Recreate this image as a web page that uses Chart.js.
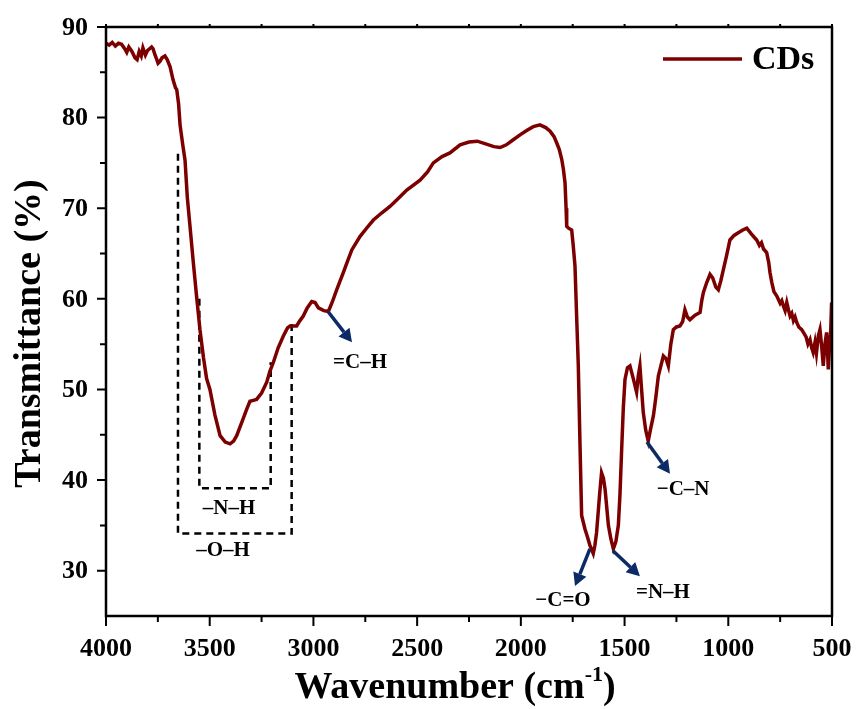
<!DOCTYPE html>
<html>
<head>
<meta charset="utf-8">
<title>FTIR - CDs</title>
<script src="https://cdn.jsdelivr.net/npm/chart.js@4.4.0/dist/chart.umd.min.js"></script>
<style>
    html, body { margin: 0; padding: 0; background: #fff; }
    #wrap { width: 858px; height: 709px; }
</style>
</head>
<body>
<div id="wrap"><canvas id="ftirCanvas"></canvas></div>
<script>
// FTIR 光谱数据 (波数 cm-1 / 透过率 %)
const wavenumber = [
    4000, 3985, 3970, 3955, 3940, 3925, 3910, 3900, 3890, 3875, 3860, 3850, 3840, 3830, 3822, 3810,
    3800, 3790, 3780, 3773, 3765, 3755, 3749, 3740, 3730, 3716, 3705, 3691, 3677, 3665, 3659, 3650,
    3643, 3630, 3619, 3608, 3595, 3579, 3563, 3547, 3530, 3515, 3499, 3475, 3450, 3425, 3402, 3385,
    3370, 3345, 3322, 3306, 3290, 3274, 3250, 3225, 3210, 3193, 3170, 3145, 3125, 3113, 3095, 3081,
    3065, 3049, 3030, 3008, 2992, 2976, 2950, 2928, 2910, 2888, 2856, 2835, 2815, 2775, 2740, 2711,
    2670, 2631, 2590, 2550, 2486, 2450, 2422, 2380, 2342, 2293, 2250, 2210, 2170, 2130, 2100, 2070,
    2040, 2004, 1970, 1940, 1908, 1880, 1859, 1840, 1827, 1815, 1803, 1795, 1787, 1782, 1779, 1770,
    1755, 1748, 1739, 1731, 1723, 1715, 1707, 1691, 1680, 1667, 1651, 1643, 1635, 1620, 1611, 1602,
    1594, 1586, 1578, 1566, 1554, 1542, 1530, 1522, 1514, 1506, 1498, 1486, 1474, 1458, 1442, 1434,
    1426, 1418, 1410, 1398, 1386, 1375, 1361, 1350, 1337, 1325, 1313, 1300, 1289, 1277, 1265, 1250,
    1233, 1220, 1209, 1197, 1185, 1160, 1136, 1128, 1120, 1104, 1088, 1075, 1060, 1048, 1036, 1024,
    1008, 992, 972, 952, 930, 911, 890, 875, 863, 850, 840, 830, 815, 805, 799, 790,
    780, 766, 750, 742, 734, 726, 718, 710, 702, 694, 686, 678, 670, 660, 646, 635,
    625, 616, 606, 598, 591, 582, 575, 566, 558, 550, 542, 534, 526, 522, 518, 512,
    506, 502, 500
];
const transmittance = [
    88.2, 88.0, 88.3, 87.9, 88.2, 88.1, 87.6, 87.2, 87.8, 87.3, 86.6, 86.4, 87.3, 86.8, 87.7, 86.9,
    87.4, 87.6, 87.8, 87.6, 87.0, 86.4, 86.0, 86.2, 86.6, 86.8, 86.4, 85.6, 84.2, 83.3, 83.1, 81.5,
    79.2, 77.0, 75.3, 71.2, 68.0, 64.0, 60.2, 56.6, 53.5, 51.2, 50.0, 47.2, 44.9, 44.2, 44.0, 44.3,
    44.9, 46.4, 47.8, 48.7, 48.8, 48.9, 49.6, 50.8, 52.0, 53.0, 54.6, 55.9, 56.8, 57.0, 57.0, 57.0,
    57.6, 58.1, 59.0, 59.7, 59.6, 59.0, 58.7, 58.6, 59.6, 61.0, 62.9, 64.2, 65.4, 66.9, 67.9, 68.7,
    69.5, 70.2, 71.1, 72.0, 73.1, 74.0, 75.0, 75.7, 76.1, 77.0, 77.3, 77.4, 77.1, 76.8, 76.7, 77.0,
    77.5, 78.1, 78.6, 79.0, 79.2, 78.9, 78.5, 77.9, 77.2, 76.5, 75.4, 74.3, 72.8, 70.0, 68.0, 67.8,
    67.6, 66.0, 63.6, 58.0, 52.6, 44.0, 36.1, 34.6, 33.8, 32.8, 31.9, 32.8, 34.2, 38.5, 40.8, 40.2,
    39.0, 37.0, 35.0, 33.5, 32.4, 33.2, 35.0, 38.5, 43.4, 48.0, 51.1, 52.4, 52.6, 51.2, 49.7, 51.5,
    52.6, 50.0, 47.5, 45.5, 44.3, 45.6, 47.1, 49.0, 51.5, 52.6, 53.7, 53.4, 52.6, 55.0, 56.6, 56.9,
    57.0, 57.5, 58.8, 58.0, 57.7, 58.2, 58.5, 59.8, 60.7, 61.8, 62.7, 62.3, 61.3, 61.0, 62.0, 63.2,
    64.8, 66.5, 67.0, 67.3, 67.6, 67.8, 67.2, 66.8, 66.5, 65.9, 66.2, 65.5, 65.1, 64.0, 62.9, 61.8,
    60.8, 60.3, 59.5, 59.8, 59.2, 58.7, 59.6, 58.8, 58.1, 58.4, 57.6, 58.0, 57.4, 56.9, 56.6, 56.2,
    55.8, 55.0, 55.5, 54.6, 54.1, 55.2, 54.0, 55.9, 56.6, 54.8, 52.6, 55.0, 56.3, 54.5, 52.2, 54.8,
    56.5, 59.6, 57.0
];
const xTicks = [4000, 3500, 3000, 2500, 2000, 1500, 1000, 500];
const yTicks = [30, 40, 50, 60, 70, 80, 90];
const seriesName = 'CDs';

// 标注: 虚线框 / 箭头 / 文字 (数据坐标)
const bandBoxes = [
    [[3653, 76.0], [3653, 34.1], [3105, 34.1], [3105, 57.4]],
    [[3550, 60.0], [3550, 39.1], [3206, 39.1], [3206, 53.0]]
];
const peakArrows = [
    [[2930, 58.6], [2814, 55.2]],
    [[1667, 32.4], [1739, 28.3]],
    [[1556, 32.2], [1426, 29.4]],
    [[1392, 44.2], [1281, 40.7]]
];
const peakLabels = [
    ['=C\u2013H', 2775, 53.0],
    ['\u2013N\u2013H', 3407, 36.8],
    ['\u2013O\u2013H', 3436, 32.2],
    ['\u2212C=O', 1797, 26.7],
    ['=N\u2013H', 1315, 27.6],
    ['\u2212C\u2013N', 1218, 39.0]
];

const serif = "'Liberation Serif', 'Times New Roman', serif";
const lineColor = '#7d0000';
const arrowColor = '#0b2a66';

const ftirDecor = {
    id: 'ftirDecor',
    beforeDatasetsDraw(chart) {
        const { ctx, scales: { x, y } } = chart;
        ctx.save();
        ctx.strokeStyle = '#000';
        ctx.lineWidth = 2.5;
        ctx.setLineDash([7, 5]);
        bandBoxes.forEach(box => {
            ctx.beginPath();
            box.forEach(([w, t], i) => {
                const px = x.getPixelForValue(w);
                const py = y.getPixelForValue(t);
                if (i === 0) ctx.moveTo(px, py); else ctx.lineTo(px, py);
            });
            ctx.stroke();
        });
        ctx.restore();
    },
    afterDraw(chart) {
        const { ctx, chartArea: a, scales: { x, y } } = chart;
        ctx.save();

        // 边框
        ctx.strokeStyle = '#000';
        ctx.lineWidth = 2.5;
        ctx.strokeRect(a.left, a.top, a.right - a.left, a.bottom - a.top);

        // 刻度线 (主/次)
        ctx.lineWidth = 2;
        ctx.beginPath();
        xTicks.forEach((v, i) => {
            const px = x.getPixelForValue(v);
            ctx.moveTo(px, a.bottom); ctx.lineTo(px, a.bottom + 10);
            ctx.moveTo(px, a.top); ctx.lineTo(px, a.top - 3);
            if (i < xTicks.length - 1) {
                const mx = x.getPixelForValue((v + xTicks[i + 1]) / 2);
                ctx.moveTo(mx, a.bottom); ctx.lineTo(mx, a.bottom + 6);
                ctx.moveTo(mx, a.top); ctx.lineTo(mx, a.top - 3);
            }
        });
        yTicks.forEach((v, i) => {
            const py = y.getPixelForValue(v);
            ctx.moveTo(a.left, py); ctx.lineTo(a.left - 9, py);
            if (i < yTicks.length - 1) {
                const my = y.getPixelForValue((v + yTicks[i + 1]) / 2);
                ctx.moveTo(a.left, my); ctx.lineTo(a.left - 6, my);
            }
        });
        ctx.stroke();

        // 刻度标签
        ctx.fillStyle = '#000';
        ctx.font = 'bold 26px ' + serif;
        ctx.textBaseline = 'middle';
        ctx.textAlign = 'center';
        xTicks.forEach(v => ctx.fillText(String(v), x.getPixelForValue(v), a.bottom + 33));
        ctx.textAlign = 'right';
        yTicks.forEach(v => ctx.fillText(String(v), a.left - 18, y.getPixelForValue(v) + 1));

        // 箭头
        ctx.strokeStyle = arrowColor;
        ctx.fillStyle = arrowColor;
        ctx.lineWidth = 3.5;
        peakArrows.forEach(([[w0, t0], [w1, t1]]) => {
            const x0 = x.getPixelForValue(w0), y0 = y.getPixelForValue(t0);
            const x1 = x.getPixelForValue(w1), y1 = y.getPixelForValue(t1);
            const ang = Math.atan2(y1 - y0, x1 - x0);
            const head = 13, half = 7;
            const bx = x1 - head * Math.cos(ang), by = y1 - head * Math.sin(ang);
            ctx.beginPath();
            ctx.moveTo(x0, y0);
            ctx.lineTo(bx, by);
            ctx.stroke();
            ctx.beginPath();
            ctx.moveTo(x1, y1);
            ctx.lineTo(bx + half * Math.sin(ang), by - half * Math.cos(ang));
            ctx.lineTo(bx - half * Math.sin(ang), by + half * Math.cos(ang));
            ctx.closePath();
            ctx.fill();
        });

        // 标注文字
        ctx.fillStyle = '#000';
        ctx.font = 'bold 21px ' + serif;
        ctx.textAlign = 'center';
        ctx.textBaseline = 'middle';
        peakLabels.forEach(([txt, w, t]) => {
            ctx.fillText(txt, x.getPixelForValue(w), y.getPixelForValue(t));
        });

        // 图例
        ctx.strokeStyle = lineColor;
        ctx.lineWidth = 3.5;
        ctx.beginPath();
        ctx.moveTo(a.right - 169, a.top + 32);
        ctx.lineTo(a.right - 90, a.top + 32);
        ctx.stroke();
        ctx.font = 'bold 34px ' + serif;
        ctx.textAlign = 'left';
        ctx.fillText(seriesName, a.right - 80, a.top + 33);

        // X 轴标题 (带上标)
        const mainFont = 'bold 38px ' + serif;
        const supFont = 'bold 22px ' + serif;
        ctx.font = mainFont;
        const p1 = 'Wavenumber (cm', p3 = ')';
        const w1 = ctx.measureText(p1).width, w3 = ctx.measureText(p3).width;
        ctx.font = supFont;
        const p2 = '-1';
        const w2 = ctx.measureText(p2).width;
        const total = w1 + w2 + w3;
        let tx = (a.left + a.right) / 2 - 14 - total / 2;
        const ty = a.bottom + 72;
        ctx.textBaseline = 'middle';
        ctx.font = mainFont;
        ctx.fillText(p1, tx, ty);
        ctx.font = supFont;
        ctx.fillText(p2, tx + w1, ty - 13);
        ctx.font = mainFont;
        ctx.fillText(p3, tx + w1 + w2, ty);

        // Y 轴标题
        ctx.translate(30, (a.top + a.bottom) / 2 + 12);
        ctx.rotate(-Math.PI / 2);
        ctx.textAlign = 'center';
        ctx.fillText('Transmittance (%)', 0, 0);

        ctx.restore();
    }
};

const ctx = document.getElementById('ftirCanvas').getContext('2d');
const points = wavenumber.map((w, i) => ({ x: w, y: transmittance[i] }));

new Chart(ctx, {
    type: 'line',
    data: {
        datasets: [{
            label: seriesName,
            data: points,
            borderColor: lineColor,
            borderWidth: 3.5,
            pointRadius: 0,
            tension: 0,
            fill: false
        }]
    },
    options: {
        responsive: true,
        maintainAspectRatio: false,
        animation: false,
        layout: { padding: { top: 27, right: 26, left: 0, bottom: 0 } },
        plugins: {
            legend: { display: false },
            tooltip: { enabled: false }
        },
        scales: {
            x: {
                type: 'linear',
                reverse: true,
                min: 500,
                max: 4000,
                afterBuildTicks: scale => { scale.ticks = xTicks.map(v => ({ value: v })); },
                afterFit: scale => { scale.height = 93; },
                grid: { display: false, drawTicks: false },
                border: { display: false },
                ticks: { display: false }
            },
            y: {
                min: 25,
                max: 90,
                afterBuildTicks: scale => { scale.ticks = yTicks.map(v => ({ value: v })); },
                afterFit: scale => { scale.width = 106; },
                grid: { display: false, drawTicks: false },
                border: { display: false },
                ticks: { display: false }
            }
        }
    },
    plugins: [ftirDecor]
});
</script>
</body>
</html>
